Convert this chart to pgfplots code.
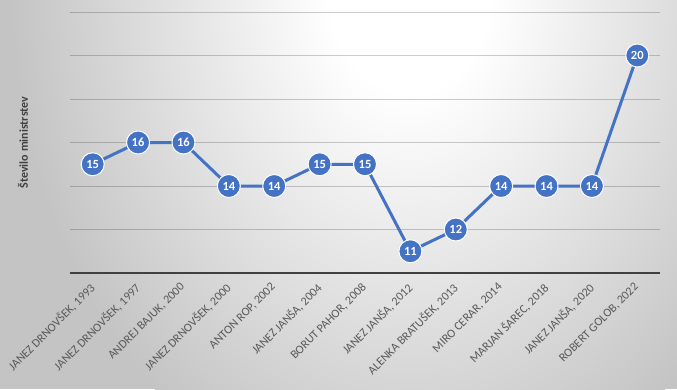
\documentclass[border=0pt]{standalone}
\usepackage{pgfplots}
\pgfplotsset{compat=1.18}
\usepackage{fontspec}
\setmainfont{Carlito}
\definecolor{ser}{HTML}{4472C4}
\definecolor{lbl}{HTML}{595959}
\definecolor{ttl}{HTML}{404040}
\definecolor{bgouter}{HTML}{C4C4C4}
\pgfdeclareradialshading{bgrad}{\pgfpoint{0bp}{0bp}}{color(0bp)=(white); color(5bp)=(white); color(25bp)=(bgouter); color(50bp)=(bgouter)}
\begin{document}
\begin{tikzpicture}[x=1pt,y=1pt]
\useasboundingbox (0,0) rectangle (677,389);
\begin{scope}
\clip (0,0) rectangle (677,389);
\fill[bgouter] (0,0) rectangle (677,389);
\shade[shading=bgrad] (410,400) ellipse [x radius=400, y radius=520];
\end{scope}
\begin{axis}[
  at={(70pt,116pt)}, anchor=south west,
  scale only axis, width=590pt, height=261pt,
  xmin=-0.5, xmax=12.5, ymin=10, ymax=22,
  ytick={12,14,...,22}, yticklabels={},
  ymajorgrids,
  grid style={black, opacity=0.2, line width=0.9pt},
  separate axis lines,
  axis x line*=bottom, axis y line*=left,
  x axis line style={ttl, line width=2pt, -},
  y axis line style={draw=none},
  major tick length=0pt,
  tick style={draw=none},
  /pgf/number format/assume math mode=true,
  xtick={0,...,12},
  xticklabels={{JANEZ DRNOVŠEK, 1993},{JANEZ DRNOVŠEK, 1997},{ANDREJ BAJUK, 2000},{JANEZ DRNOVŠEK, 2000},{ANTON ROP, 2002},{JANEZ JANŠA, 2004},{BORUT PAHOR, 2008},{JANEZ JANŠA, 2012},{ALENKA BRATUŠEK, 2013},{MIRO CERAR, 2014},{MARJAN ŠAREC, 2018},{JANEZ JANŠA, 2020},{ROBERT GOLOB, 2022}},
  xticklabel style={xshift=-4pt, yshift=-6pt, rotate=45, anchor=north east, inner sep=2pt, font=\fontsize{12}{14}\selectfont, text=lbl},
  ylabel={Število ministrstev},
  ylabel style={at={(axis description cs:-0.0797,0.5)}, anchor=center, font=\bfseries\fontsize{12}{14}\selectfont, text=ttl},
  clip=false,
]
\addplot[ser, line width=3pt, mark=*, mark size=11.5pt,
  mark options={fill=ser, draw=white, line width=1pt},
  nodes near coords,
  every node near coord/.append style={anchor=center, text=white, font=\bfseries\fontsize{12.5}{14}\selectfont}]
coordinates {(0,15) (1,16) (2,16) (3,14) (4,14) (5,15) (6,15) (7,11) (8,12) (9,14) (10,14) (11,14) (12,20)};
\end{axis}
\end{tikzpicture}
\end{document}
